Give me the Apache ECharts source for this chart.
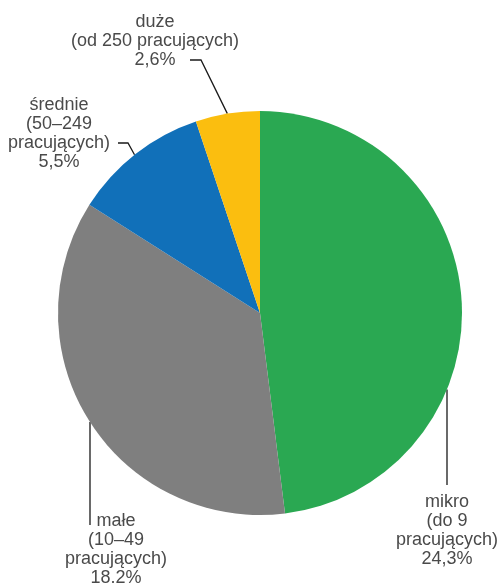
<!DOCTYPE html>
<html>
<head>
<meta charset="utf-8">
<script src="https://cdn.jsdelivr.net/npm/echarts@6/dist/echarts.min.js"></script>
<style>
  html, body { margin: 0; padding: 0; background: #fff; }
  #chart { width: 503px; height: 583px; }
</style>
</head>
<body>
<div id="chart"></div>
<script>
const categories = ['mikro\n(do 9\npracujących)', 'małe\n(10–49\npracujących)', 'średnie\n(50–249\npracujących)', 'duże\n(od 250 pracujących)'];
const values = [24.3, 18.2, 5.5, 2.6];
const valueLabels = ['24,3%', '18.2%', '5,5%', '2,6%'];
const colors = ['#2aa852', '#7f7f7f', '#1170b9', '#fbbe0f'];

const cx = 260, cy = 313, r = 202;

// where each label sits and how its leader line runs
// vertical lines hit the pie at lineX (lower half); the others at angle (clockwise from 12 o'clock)
const labelPlaces = [
  { x: 447, y: 531, lineX: 447, end: [447, 485] },
  { x: 116, y: 550, lineX: 90, end: [90, 525] },
  { x: 59, y: 134, angle: 321.6, knee: [128, 143], end: [118, 143] },
  { x: 155, y: 41, angle: 350.7, knee: [201, 60], end: [190, 60] }
];

function edgePoint(place) {
  if (place.lineX != null) {
    const dx = place.lineX - cx;
    return [place.lineX, cy + Math.sqrt(r * r - dx * dx)];
  }
  const a = place.angle * Math.PI / 180;
  return [cx + r * Math.sin(a), cy - r * Math.cos(a)];
}

const chart = echarts.init(document.getElementById('chart'));

chart.setOption({
  animation: false,
  series: [{
    type: 'pie',
    center: [cx, cy],
    radius: r,
    startAngle: 90,
    clockwise: true,
    avoidLabelOverlap: false,
    data: categories.map(function (name, i) {
      return { name: name, value: values[i], itemStyle: { color: colors[i] } };
    }),
    label: {
      show: true,
      position: 'outside',
      formatter: function (p) { return p.name + '\n' + valueLabels[p.dataIndex]; },
      fontFamily: 'Liberation Sans, Arial, sans-serif',
      fontSize: 18,
      lineHeight: 19,
      color: '#4a4a4a',
      align: 'center'
    },
    labelLine: {
      show: true,
      lineStyle: { color: '#1a1a1a', width: 1.3 }
    },
    emphasis: { disabled: true },
    labelLayout: function (params) {
      const place = labelPlaces[params.dataIndex];
      const e = edgePoint(place);
      const knee = place.knee || [place.lineX, (e[1] + place.end[1]) / 2];
      return {
        x: place.x,
        y: place.y,
        align: 'center',
        verticalAlign: 'middle',
        labelLinePoints: [e, knee, place.end]
      };
    }
  }]
});
</script>
</body>
</html>
